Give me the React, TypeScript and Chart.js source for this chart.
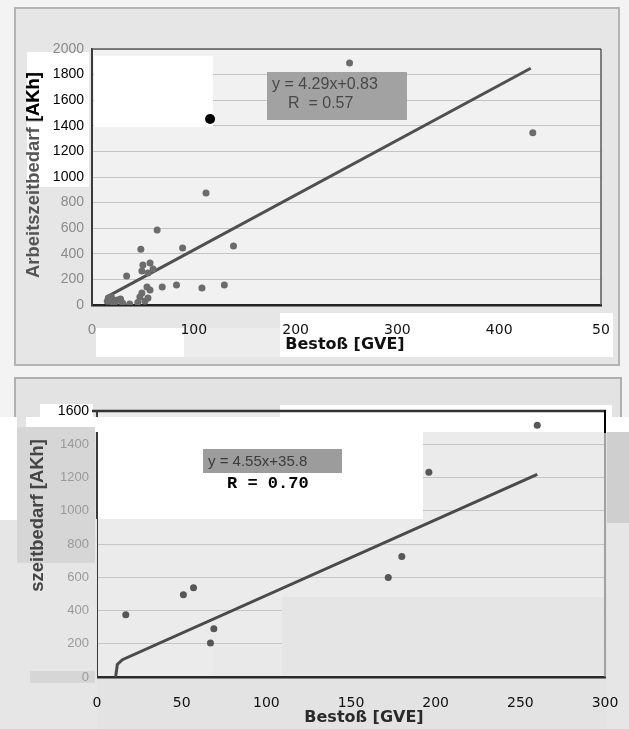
import React, { useEffect, useRef } from "react";
import { Chart, registerables } from "chart.js";
Chart.register(...registerables);

// ---------- DATA ----------
const xTitle = "Bestoß [GVE]";
const yTitle = "Arbeitszeitbedarf [AKh]";

// top chart
const topXTicks = [0, 100, 200, 300, 400, 500];
const topXTickLabels = ["0", "100", "200", "300", "400", "50"];
const topYTicks = [0, 200, 400, 600, 800, 1000, 1200, 1400, 1600, 1800, 2000];
const topX = [253, 433, 112, 64, 48, 89, 139, 34, 50, 57, 60, 55, 49, 69, 83, 108, 130, 49, 57, 54, 47, 55, 52, 45, 16, 21, 19, 25, 30, 37, 20, 15, 28, 23];
const topY = [1890, 1345, 875, 586, 436, 445, 461, 227, 312, 328, 281, 250, 266, 140, 156, 133, 156, 94, 118, 141, 63, 55, 30, 20, 55, 39, 63, 39, 16, 8, 20, 30, 47, 25];
const topHighlightX = [116];
const topHighlightY = [1453];
const topTrendX = [15, 431];
const topTrendY = [65, 1850];
const topEquation = "y = 4.29x+0.83";
const topR = "R  = 0.57";

// bottom chart
const botXTicks = [0, 50, 100, 150, 200, 250, 300];
const botYTicks = [0, 200, 400, 600, 800, 1000, 1200, 1400, 1600];
const botX = [260, 196, 180, 172, 17, 51, 57, 69, 67];
const botY = [1515, 1232, 725, 598, 374, 495, 537, 290, 205];
const botTrendX = [11, 12, 15, 260];
const botTrendY = [0, 75, 104, 1219];
const botEquation = "y = 4.55x+35.8";
const botR = "R = 0.70";

const pts = (xs: number[], ys: number[]) => xs.map((x, i) => ({ x, y: ys[i] }));

// ---------- helpers ----------
function rect(ctx: CanvasRenderingContext2D, x1: number, y1: number, x2: number, y2: number, color: string, oy: number) {
  ctx.fillStyle = color;
  ctx.fillRect(x1, y1 - oy, x2 - x1, y2 - y1);
}
function line(ctx: CanvasRenderingContext2D, x1: number, y1: number, x2: number, y2: number, color: string, w: number, oy: number) {
  ctx.strokeStyle = color;
  ctx.lineWidth = w;
  ctx.beginPath();
  ctx.moveTo(x1, y1 - oy);
  ctx.lineTo(x2, y2 - oy);
  ctx.stroke();
}
function vTitle(ctx: CanvasRenderingContext2D, cx: number, cy: number, len: number, color: string) {
  ctx.save();
  ctx.font = 'bold 15px "Liberation Sans"';
  const w = ctx.measureText(yTitle).width;
  const size = (15 * len) / w;
  ctx.font = `bold ${size}px "Liberation Sans"`;
  ctx.translate(cx, cy);
  ctx.rotate(-Math.PI / 2);
  ctx.fillStyle = color;
  ctx.textAlign = "center";
  ctx.textBaseline = "middle";
  ctx.fillText(yTitle, 0, 0);
  ctx.restore();
}
const plain = (v: any) => String(v);

// ---------- top chart ----------
function topConfig(): any {
  const oy = 0;
  const plugin = {
    id: "topDeco",
    beforeDraw(chart: any) {
      const { ctx, chartArea: a } = chart;
      ctx.save();
      rect(ctx, 0, 0, 629, 370, "#f3f3f3", oy);
      rect(ctx, 15, 8, 619, 365, "#e6e6e6", oy);
      ctx.strokeStyle = "#b4b4b4";
      ctx.lineWidth = 2;
      ctx.strokeRect(15, 8, 604, 357);
      ctx.fillStyle = "#f1f1f1";
      ctx.fillRect(a.left, a.top, a.width, a.height);
      ctx.restore();
    },
    beforeDatasetsDraw(chart: any) {
      const { ctx, chartArea: a } = chart;
      ctx.save();
      rect(ctx, 94, 56, 213, 127, "#ffffff", oy);
      rect(ctx, 27, 52, 89, 187, "#ffffff", oy);
      rect(ctx, 96, 328, 184, 357, "#ffffff", oy);
      rect(ctx, 184, 328, 280, 357, "#ededed", oy);
      rect(ctx, 280, 313, 613, 357, "#ffffff", oy);
      line(ctx, a.left, a.top, a.right, a.top, "#5a5a5a", 1.5, 0);
      line(ctx, a.right, a.top, a.right, a.bottom, "#5a5a5a", 1.5, 0);
      ctx.restore();
    },
    afterDatasetsDraw(chart: any) {
      const { ctx } = chart;
      ctx.save();
      rect(ctx, 267, 72, 407, 120, "#a2a2a2", oy);
      ctx.fillStyle = "#484848";
      ctx.font = '16px "Liberation Sans"';
      ctx.textBaseline = "middle";
      ctx.fillText(topEquation, 272, 85, 123);
      ctx.fillText(topR, 288, 104, 76);
      ctx.restore();
    },
    afterDraw(chart: any) {
      const { ctx } = chart;
      ctx.save();
      ctx.font = 'bold 16px "DejaVu Sans"';
      ctx.fillStyle = "#111";
      ctx.textAlign = "center";
      ctx.textBaseline = "middle";
      ctx.fillText(xTitle, 345, 345);
      ctx.restore();
      vTitle(ctx, 34, 175, 206, "#555");
      ctx.save();
      ctx.beginPath();
      ctx.rect(20, 52, 30, 68);
      ctx.clip();
      vTitle(ctx, 34, 175, 206, "#000");
      ctx.restore();
    },
  };
  return {
    type: "scatter",
    data: {
      datasets: [
        { data: pts(topHighlightX, topHighlightY), backgroundColor: "#000", borderWidth: 0, pointRadius: 5 },
        { data: pts(topX, topY), backgroundColor: "#6c6c6c", borderWidth: 0, pointRadius: 3.5 },
        { data: pts(topTrendX, topTrendY), showLine: true, borderColor: "#505050", borderWidth: 3, pointRadius: 0 },
      ],
    },
    options: {
      animation: false,
      responsive: false,
      layout: { padding: { left: 32, right: 28, top: 49, bottom: 25 } },
      plugins: { legend: { display: false }, tooltip: { enabled: false } },
      scales: {
        x: {
          type: "linear",
          min: 0,
          max: 500,
          afterBuildTicks: (s: any) => { s.ticks = topXTicks.map((v) => ({ value: v })); },
          afterFit: (s: any) => { s.height = 40; },
          ticks: {
            z: 1,
            autoSkip: false,
            maxRotation: 0,
            padding: 9,
            callback: (_v: any, i: number) => topXTickLabels[i],
            color: (c: any) => (c.tick && c.tick.value === 0 ? "#8a8a8a" : "#111"),
            font: { family: "DejaVu Sans", size: 14 },
          },
          grid: { display: false },
          border: { display: true, color: "#222", width: 2.5 },
        },
        y: {
          min: 0,
          max: 2000,
          afterBuildTicks: (s: any) => { s.ticks = topYTicks.map((v) => ({ value: v })); },
          afterFit: (s: any) => { s.width = 60; },
          ticks: {
            z: 1,
            padding: 8,
            callback: plain,
            color: (c: any) => (c.tick && c.tick.value >= 1000 && c.tick.value <= 1800 ? "#000" : "#8a8a8a"),
            font: { family: "Liberation Sans", size: 14 },
          },
          grid: { color: "#c4c4c4", lineWidth: 1, drawTicks: false },
          border: { display: true, color: "#3a3a3a", width: 2 },
        },
      },
    },
    plugins: [plugin],
  };
}

// ---------- bottom chart ----------
function bottomConfig(): any {
  const oy = 370;
  const plugin = {
    id: "botDeco",
    beforeDraw(chart: any) {
      const { ctx, chartArea: a } = chart;
      ctx.save();
      rect(ctx, 0, 370, 629, 729, "#f3f3f3", oy);
      rect(ctx, 15, 378, 621, 760, "#e3e3e3", oy);
      ctx.strokeStyle = "#b0b0b0";
      ctx.lineWidth = 2;
      ctx.strokeRect(15, 378 - oy, 606, 400);
      ctx.fillStyle = "#ebebeb";
      ctx.fillRect(a.left, a.top, a.width, a.height);
      ctx.restore();
    },
    beforeDatasetsDraw(chart: any) {
      const { ctx } = chart;
      ctx.save();
      rect(ctx, 0, 519, 97, 729, "#e6e6e6", oy);
      rect(ctx, 26, 417, 629, 432, "#ffffff", oy);
      rect(ctx, 280, 405, 612, 417, "#ffffff", oy);
      rect(ctx, 40, 404, 93, 418, "#ffffff", oy);
      rect(ctx, 0, 417, 17, 520, "#ffffff", oy);
      rect(ctx, 98, 432, 423, 519, "#ffffff", oy);
      rect(ctx, 17, 427, 95, 563, "#d6d6d6", oy);
      rect(ctx, 30, 671, 95, 683, "#d6d6d6", oy);
      rect(ctx, 282, 597, 604, 675, "#e5e5e5", oy);
      rect(ctx, 213, 645, 282, 675, "#e9e9e9", oy);
      rect(ctx, 607, 432, 629, 523, "#cfcfcf", oy);
      rect(ctx, 607, 523, 629, 729, "#e6e6e6", oy);
      line(ctx, 92, 411, 606, 411, "#333", 2.5, oy);
      line(ctx, 605, 410, 605, 433, "#000", 2, oy);
      line(ctx, 605, 433, 605, 677, "#8a8a8a", 1.5, oy);
      ctx.restore();
    },
    afterDatasetsDraw(chart: any) {
      const { ctx } = chart;
      ctx.save();
      rect(ctx, 203, 449, 342, 473, "#9c9c9c", oy);
      ctx.fillStyle = "#3c3c3c";
      ctx.font = '15px "Liberation Sans"';
      ctx.textBaseline = "middle";
      ctx.fillText(botEquation, 208, 462 - oy, 127);
      ctx.fillStyle = "#000";
      ctx.font = 'bold 17px "Liberation Mono"';
      ctx.fillText(botR, 227, 484 - oy);
      ctx.restore();
    },
    afterDraw(chart: any) {
      const { ctx } = chart;
      ctx.save();
      ctx.font = 'bold 16px "DejaVu Sans"';
      ctx.fillStyle = "#2a2a2a";
      ctx.textAlign = "center";
      ctx.textBaseline = "middle";
      ctx.fillText(xTitle, 364, 718 - oy);
      ctx.restore();
      vTitle(ctx, 38, 542 - oy, 206, "#444");
      ctx.save();
      rect(ctx, 20, 591, 58, 665, "#e6e6e6", oy);
      ctx.restore();
    },
  };
  return {
    type: "scatter",
    data: {
      datasets: [
        { data: pts(botX, botY), backgroundColor: "#575757", borderWidth: 0, pointRadius: 3.5 },
        { data: pts(botTrendX, botTrendY), showLine: true, borderColor: "#4a4a4a", borderWidth: 3, pointRadius: 0 },
      ],
    },
    options: {
      animation: false,
      responsive: false,
      layout: { padding: { left: 37, right: 24, top: 41, bottom: 12 } },
      plugins: { legend: { display: false }, tooltip: { enabled: false } },
      scales: {
        x: {
          type: "linear",
          min: 0,
          max: 300,
          afterBuildTicks: (s: any) => { s.ticks = botXTicks.map((v) => ({ value: v })); },
          afterFit: (s: any) => { s.height = 40; },
          ticks: {
            z: 1,
            autoSkip: false,
            maxRotation: 0,
            padding: 10,
            callback: plain,
            color: "#111",
            font: { family: "DejaVu Sans", size: 14 },
          },
          grid: { display: false },
          border: { display: true, color: "#2a2a2a", width: 2.5 },
        },
        y: {
          min: 0,
          max: 1600,
          afterBuildTicks: (s: any) => { s.ticks = botYTicks.map((v) => ({ value: v })); },
          afterFit: (s: any) => { s.width = 60; },
          ticks: {
            z: 1,
            padding: 8,
            callback: plain,
            color: (c: any) => (c.tick && c.tick.value === 1600 ? "#000" : "#9a9a9a"),
            font: (c: any) => ({ family: "Liberation Sans", size: c.tick && c.tick.value === 1600 ? 14 : 13 }),
          },
          grid: { color: "#c6c6c6", lineWidth: 1, drawTicks: false },
          border: { display: true, color: "#3a3a3a", width: 2 },
        },
      },
    },
    plugins: [plugin],
  };
}

export default function App() {
  const topRef = useRef<HTMLCanvasElement>(null);
  const botRef = useRef<HTMLCanvasElement>(null);
  useEffect(() => {
    document.body.style.margin = "0";
    const c1 = new Chart(topRef.current as HTMLCanvasElement, topConfig());
    const c2 = new Chart(botRef.current as HTMLCanvasElement, bottomConfig());
    return () => {
      c1.destroy();
      c2.destroy();
    };
  }, []);
  return (
    <div style={{ position: "relative", width: 629, height: 729, background: "#f3f3f3", overflow: "hidden" }}>
      <canvas ref={topRef} width={629} height={370} style={{ position: "absolute", left: 0, top: 0 }} />
      <canvas ref={botRef} width={629} height={359} style={{ position: "absolute", left: 0, top: 370 }} />
    </div>
  );
}
